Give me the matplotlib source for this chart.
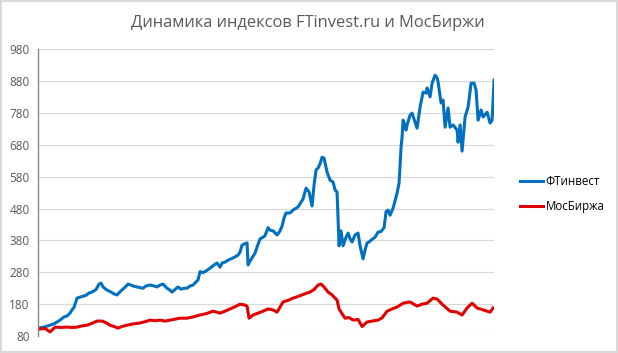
import matplotlib.pyplot as plt

# blue series: FTinvest index (time position, value)
ft_t = [1, 5, 8, 12, 17, 22, 26, 29, 32, 34, 36, 39, 42, 45, 48, 51, 54, 58, 61, 63,
        65, 69, 73, 76, 79, 83, 86, 90, 93, 96, 99, 102, 105, 108, 112, 116, 119, 122, 125, 129,
        132, 134, 137, 140, 143, 146, 149, 152, 155, 158, 160, 162, 165, 168, 172, 176, 179, 182, 184, 187,
        190, 193, 195, 198, 200, 202, 204, 207, 209, 210, 212, 214, 217, 219, 222, 225, 227, 230, 232, 235,
        239, 242, 244, 246, 248, 252, 255, 260, 265, 268, 271, 274, 276, 278, 280, 282, 284, 286, 289, 292,
        295, 297, 299, 300, 301, 303, 305, 308, 310, 312, 314, 317, 320, 322, 325, 327, 329, 331, 333, 337,
        340, 343, 346, 348, 350, 352, 355, 359, 361, 363, 364, 365, 367, 368, 369, 372, 374, 377, 379, 382,
        385, 388, 389, 392, 394, 397, 399, 400, 403, 405, 407, 410, 412, 415, 419, 420, 422, 424, 427, 430,
        433, 436, 438, 440, 443, 445, 449, 452, 454, 456]
ft_v = [105, 108, 110, 114, 120, 130, 140, 143, 152, 162, 170, 199, 202, 205, 208, 215, 218, 226, 243, 246,
        234, 224, 218, 212, 209, 222, 230, 243, 240, 236, 234, 232, 230, 237, 240, 237, 234, 240, 243, 230,
        224, 218, 226, 234, 227, 230, 230, 237, 240, 250, 256, 282, 279, 284, 293, 303, 309, 296, 309, 312,
        318, 322, 325, 330, 334, 343, 365, 370, 372, 303, 315, 325, 340, 359, 385, 390, 395, 420, 412, 410,
        397, 410, 425, 450, 466, 466, 475, 485, 510, 544, 532, 488, 554, 601, 607, 620, 641, 638, 594, 569,
        563, 538, 532, 450, 363, 410, 363, 390, 403, 385, 375, 397, 403, 363, 322, 350, 372, 375, 381, 390,
        406, 408, 420, 470, 475, 459, 481, 528, 560, 673, 704, 757, 740, 726, 742, 773, 779, 751, 732, 798,
        845, 842, 858, 830, 873, 898, 890, 877, 811, 820, 735, 795, 735, 742, 726, 688, 742, 660, 767, 798,
        873, 873, 851, 757, 789, 767, 782, 748, 757, 883]

# red series: MOEX index (time position, value)
mx_t = [2, 7, 12, 17, 23, 29, 34, 39, 44, 49, 54, 59, 64, 68, 72, 76, 80, 84, 89, 95,
        102, 107, 112, 117, 122, 127, 132, 137, 142, 149, 155, 162, 168, 175, 182, 187, 192, 197, 202, 206,
        209, 211, 215, 220, 225, 230, 235, 239, 245, 250, 255, 260, 264, 269, 272, 276, 280, 283, 286, 290,
        294, 297, 299, 301, 304, 307, 311, 315, 320, 324, 329, 334, 340, 344, 349, 354, 359, 365, 372, 379,
        384, 389, 395, 399, 405, 412, 419, 424, 429, 434, 439, 445, 450, 452, 455]
mx_v = [102, 104, 93, 108, 107, 108, 107, 108, 112, 114, 120, 127, 127, 122, 114, 110, 105, 110, 114, 118,
        121, 125, 130, 128, 130, 127, 130, 133, 136, 136, 140, 146, 150, 158, 152, 158, 165, 172, 180, 178,
        174, 136, 146, 152, 158, 165, 162, 155, 187, 192, 199, 204, 209, 215, 218, 226, 240, 243, 234, 218,
        209, 199, 193, 165, 150, 136, 138, 130, 132, 110, 124, 127, 130, 137, 158, 165, 171, 183, 187, 174,
        180, 183, 199, 196, 177, 158, 155, 146, 168, 183, 168, 162, 157, 155, 168]

y_ticks = list(range(80, 981, 100))
grey = '#595959'

plt.rcParams['font.family'] = ['Open Sans', 'DejaVu Sans']

fig = plt.figure(figsize=(6.18, 3.53), dpi=100)
fig.patch.set_edgecolor('#d9d9d9')
fig.patch.set_linewidth(1.5)
ax = fig.add_axes([0.0615, 0.048, 0.738, 0.813])

ax.plot(ft_t, ft_v, color='#0070C0', lw=2.2, label='ФТинвест', solid_joinstyle='round')
ax.plot(mx_t, mx_v, color='#E00000', lw=2.2, label='МосБиржа', solid_joinstyle='round')

ax.set_ylim(80, 980)
ax.set_xlim(0, 456)
ax.set_yticks(y_ticks)
ax.set_xticks([])
ax.tick_params(axis='y', length=0, labelsize=8.5, labelcolor=grey, pad=6)
ax.grid(axis='y', color='#d9d9d9', lw=0.9)
ax.set_axisbelow(True)
for s in ['top', 'right', 'bottom']:
    ax.spines[s].set_visible(False)
ax.spines['left'].set_color('#898989')
ax.spines['left'].set_linewidth(1.0)

fig.text(0.498, 0.935, 'Динамика индексов FTinvest.ru и МосБиржи', ha='center', va='center',
         fontsize=11.9, color=grey)

fig.legend(loc='center left', bbox_to_anchor=(0.825, 0.45), frameon=False,
           fontsize=8.3, handlelength=2.0, handletextpad=0.2, labelspacing=1.05)

fig.savefig('out.png', dpi=100)
